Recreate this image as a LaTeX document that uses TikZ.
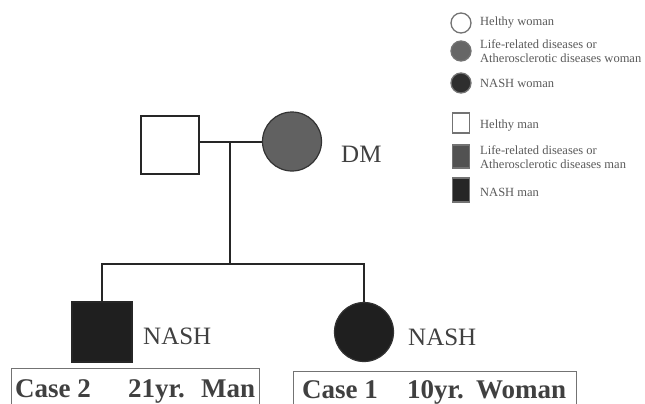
\documentclass[tikz,border=0pt]{standalone}
\usepackage{fontspec}
\setmainfont{Liberation Serif}
\begin{document}
\begin{tikzpicture}[x=1pt,y=-1pt,
  line/.style={line width=1.5pt,draw=black!85},
  sq/.style={draw=black!85,line width=1.4pt,minimum width=58pt,minimum height=58pt,inner sep=0pt},
  ci/.style={circle,draw=black!80,line width=1.2pt,minimum size=59pt,inner sep=0pt},
  lab/.style={font=\fontsize{25}{25}\selectfont,text=black!75,anchor=base west,inner sep=0pt},
  case/.style={font=\bfseries\fontsize{27}{27}\selectfont,text=black!75,anchor=base west,inner sep=0pt},
  lsq/.style={draw=black!55,line width=1.3pt,minimum width=17pt,minimum height=20pt,inner sep=0pt},
  lci/.style={circle,draw=black!55,line width=1.3pt,minimum width=18pt,minimum height=20pt,inner sep=0pt},
  ltx/.style={font=\fontsize{12.5}{14.5}\selectfont,text=black!65,anchor=west,inner sep=0pt,align=left}]
\useasboundingbox (0,0) rectangle (645,404);
\clip (0,0) rectangle (645,404);
% parents
\node[sq] (father) at (170,145) {};
\node[ci,fill=black!62] (mother) at (292,141.5) {};
\node[lab] (dm) at (341,162) {DM};
\coordinate (m) at (230,142);
\coordinate (sl) at (102,264);
\coordinate (sr) at (364,264);
\coordinate (sm) at (230,264);
% children
\node[sq,fill=black!88,minimum width=60pt,minimum height=60pt] (son) at (102,332) {};
\node[ci,fill=black!88] (dau) at (364,332) {};
\node[lab] (n1) at (143,344) {NASH};
\node[lab] (n2) at (408,345) {NASH};
% connectors
\draw[line] (father.east |- m) -- (mother.west |- m);
\draw[line] (m) -- (sm);
\draw[line] (son.north) -- (sl) -- (sr) -- (dau.north);
% case boxes
\draw[draw=black!55,line width=1pt] (11,368) rectangle (259,420);
\draw[draw=black!55,line width=1pt] (293,371) rectangle (576,420);
\node[case] (c2a) at (15,397) {Case 2};
\node[case] (c2b) at (128,397) {21yr.};
\node[case] (c2c) at (201,397) {Man};
\node[case] (c1a) at (302,398) {Case 1};
\node[case] (c1b) at (407,398) {10yr.};
\node[case] (c1c) at (476,398) {Woman};
% legend
\node[lci] (l1) at (461,23) {};
\node[ltx] (t1) at (480,23) {Helthy woman};
\node[lci,fill=black!60] (l2) at (461,51) {};
\node[ltx] (t2) at (480,51) {Life-related diseases or\\Atherosclerotic diseases woman};
\node[lci,fill=black!82] (l3) at (461,83) {};
\node[ltx] (t3) at (480,83) {NASH woman};
\node[lsq] (s1) at (461,123) {};
\node[ltx] (u1) at (480,126) {Helthy man};
\node[lsq,fill=black!68,minimum height=23pt] (s2) at (461,156.5) {};
\node[ltx] (u2) at (480,157) {Life-related diseases or\\Atherosclerotic diseases man};
\node[lsq,fill=black!85,minimum height=24pt] (s3) at (461,190) {};
\node[ltx] (u3) at (480,192) {NASH man};
\end{tikzpicture}
\end{document}
